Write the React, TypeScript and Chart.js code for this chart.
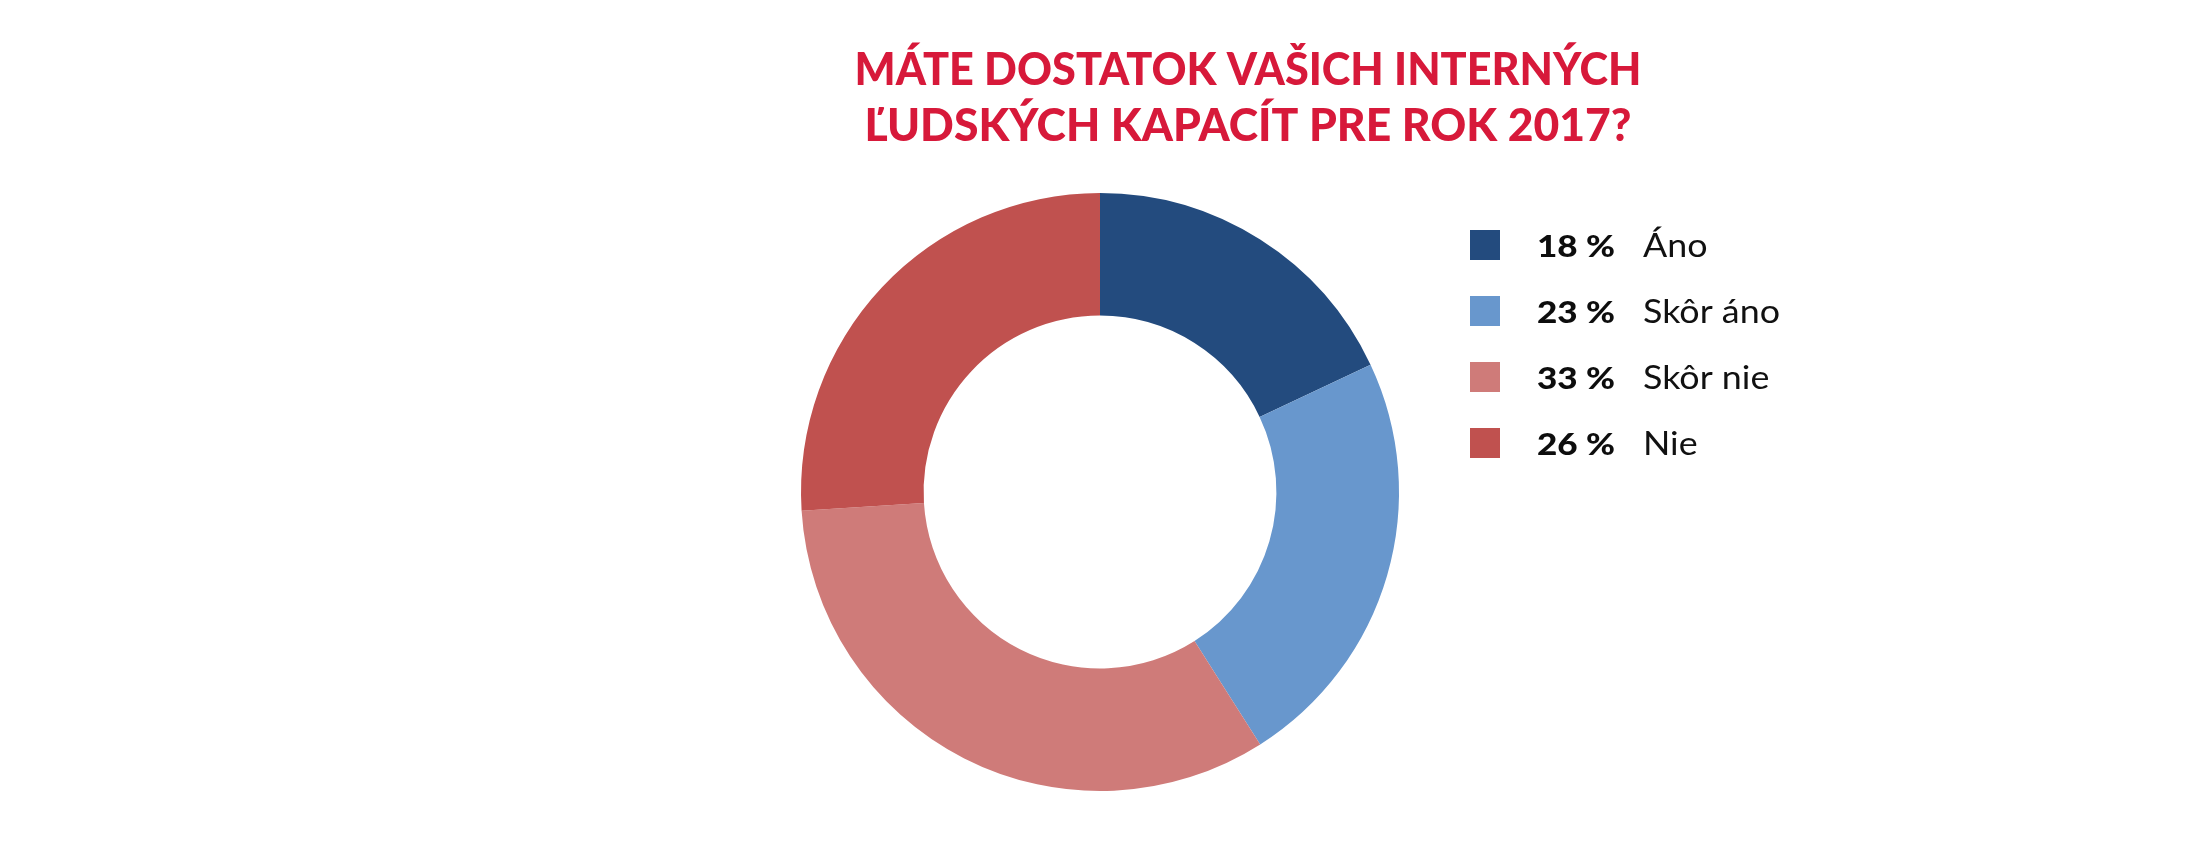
import React, { useEffect, useRef } from "react";
import { Chart, registerables } from "chart.js";

Chart.register(...registerables);

const titleLines = ["MÁTE DOSTATOK VAŠICH INTERNÝCH", "ĽUDSKÝCH KAPACÍT PRE ROK 2017?"];
const categories = ["Áno", "Skôr áno", "Skôr nie", "Nie"];
const values = [18, 23, 33, 26];
const colors = ["#234B7E", "#6897CD", "#CF7B79", "#C0514F"];

const TITLE_COLOR = "#D7193A";

const overlayPlugin = {
  id: "overlay",
  afterDraw(chart: any) {
    const ctx = chart.ctx as CanvasRenderingContext2D;
    ctx.save();
    // Title
    ctx.fillStyle = TITLE_COLOR;
    ctx.textBaseline = "alphabetic";
    ctx.textAlign = "center";
    const titleCenter = 1248;
    const titleBaselines = [85, 141];
    const titleWidths = [787, 767];
    ctx.font = "900 45px Lato";
    titleLines.forEach((line, i) => {
      const w = ctx.measureText(line).width;
      const sx = titleWidths[i] / w;
      ctx.save();
      ctx.translate(titleCenter, titleBaselines[i]);
      ctx.scale(sx, 1);
      ctx.fillText(line, 0, 0);
      ctx.restore();
    });
    // Legend
    const ds = chart.data.datasets[0];
    const labels = chart.data.labels as string[];
    ctx.textAlign = "left";
    ctx.font = "900 31px Lato";
    const pctScale = 78 / ctx.measureText(`${ds.data[0]} %`).width;
    ctx.font = "33px Lato";
    const labScale = 137 / ctx.measureText(labels[1]).width;
    labels.forEach((lab, i) => {
      const base = 257 + i * 66;
      ctx.fillStyle = (ds.backgroundColor as string[])[i];
      ctx.fillRect(1470, base - 27, 30, 30);
      ctx.fillStyle = "#0d0d0d";
      ctx.font = "900 31px Lato";
      ctx.save();
      ctx.translate(1537, base);
      ctx.scale(pctScale, 1);
      ctx.fillText(`${ds.data[i]} %`, 0, 0);
      ctx.restore();
      ctx.fillStyle = "#111111";
      ctx.font = "33px Lato";
      ctx.save();
      ctx.translate(1643, base);
      ctx.scale(labScale, 1);
      ctx.fillText(lab, 0, 0);
      ctx.restore();
    });
    ctx.restore();
  },
};

export default function App() {
  const ref = useRef<HTMLCanvasElement | null>(null);
  useEffect(() => {
    document.body.style.margin = "0";
    const canvas = ref.current!;
    const chart = new Chart(canvas, {
      type: "doughnut",
      data: {
        labels: categories,
        datasets: [
          {
            data: values,
            backgroundColor: colors,
            borderWidth: 0,
          },
        ],
      },
      options: {
        responsive: false,
        animation: false,
        cutout: "59%",
        layout: { padding: { left: 801, right: 804, top: 193, bottom: 53 } },
        plugins: {
          legend: { display: false },
          title: { display: false },
          tooltip: { enabled: false },
        },
      },
      plugins: [overlayPlugin],
    });
    return () => chart.destroy();
  }, []);
  return (
    <div style={{ width: 2203, height: 844, background: "#ffffff", overflow: "hidden" }}>
      <canvas ref={ref} width={2203} height={844} style={{ display: "block" }} />
    </div>
  );
}
